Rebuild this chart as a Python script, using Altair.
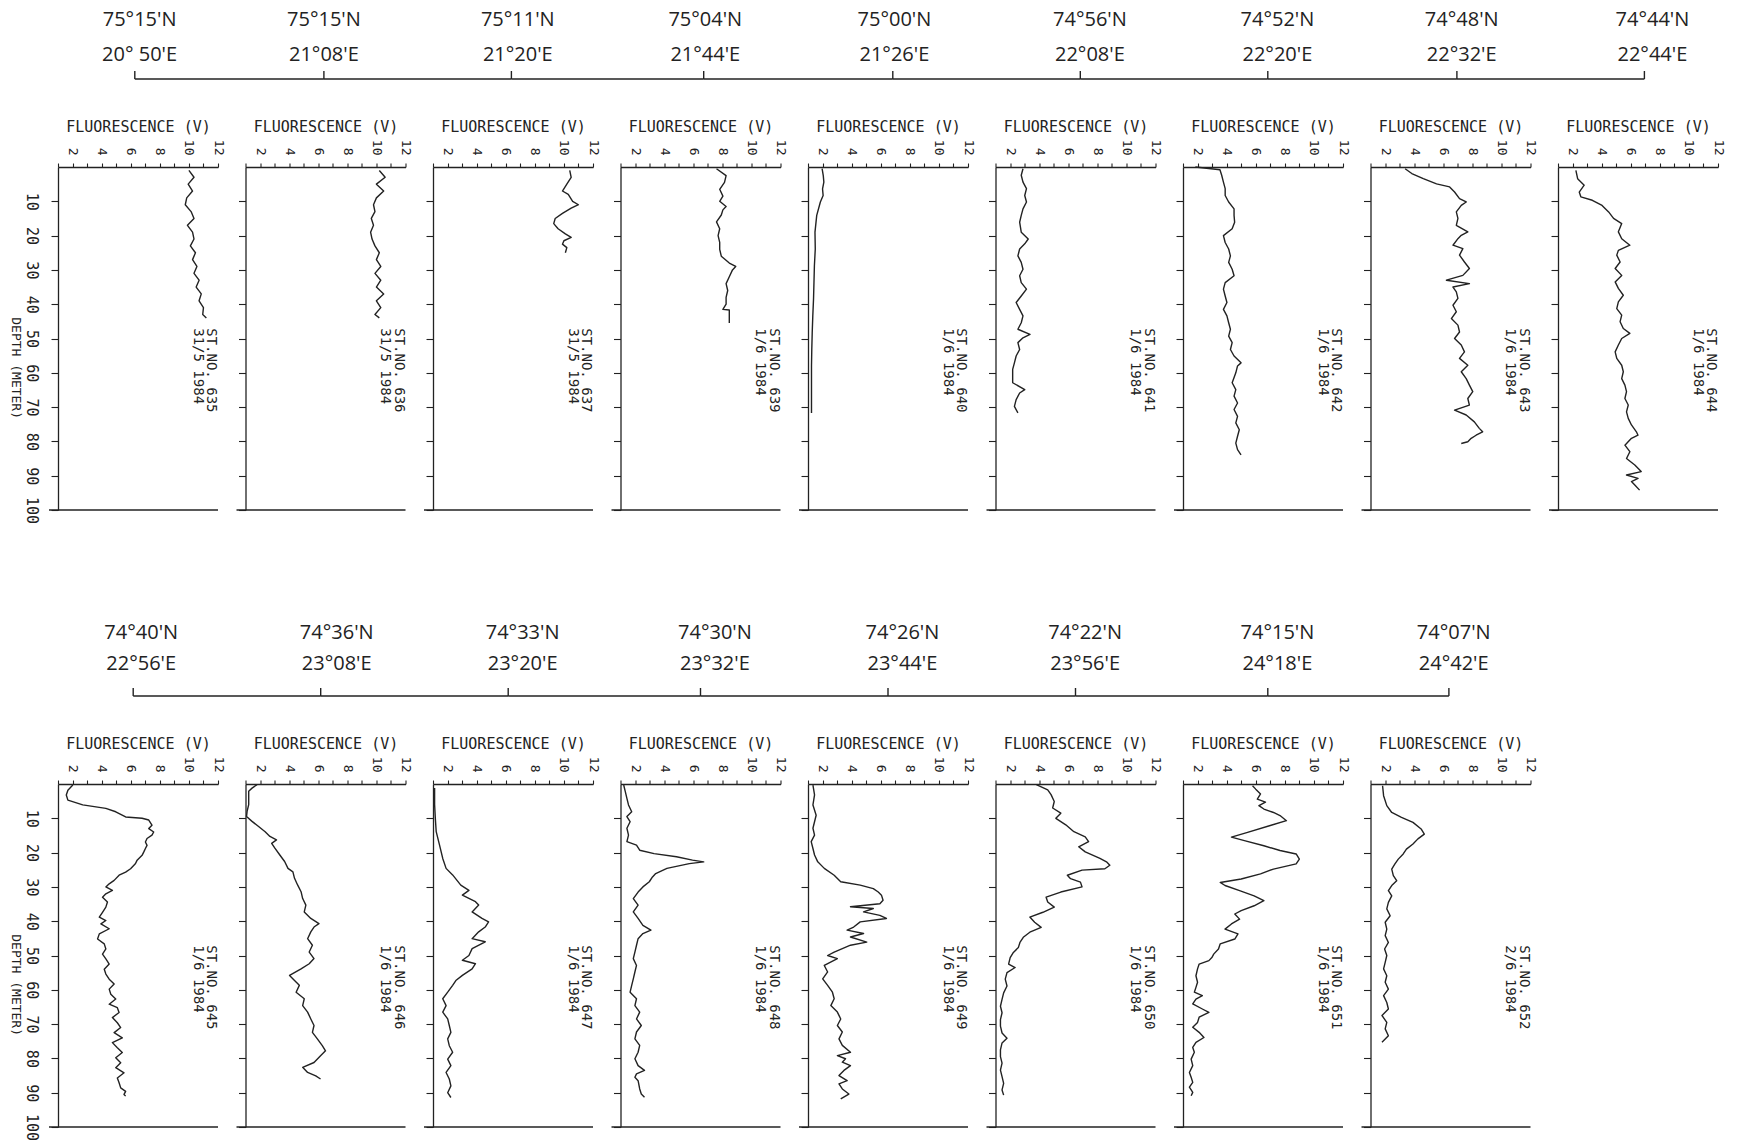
import altair as alt
import pandas as pd

# ------------------------------------------------------------------
# Station metadata
# ------------------------------------------------------------------
top_stations = ["635", "636", "637", "639", "640", "641", "642", "643", "644"]
top_dates = ["31/5 1984", "31/5 1984", "31/5 1984", "1/6 1984", "1/6 1984",
             "1/6 1984", "1/6 1984", "1/6 1984", "1/6 1984"]
top_lat = ["75°15'N", "75°15'N", "75°11'N", "75°04'N", "75°00'N",
           "74°56'N", "74°52'N", "74°48'N", "74°44'N"]
top_lon = ["20° 50'E", "21°08'E", "21°20'E", "21°44'E", "21°26'E",
           "22°08'E", "22°20'E", "22°32'E", "22°44'E"]
# tick / label position along the transect, as fraction of a panel width
top_tick = [0.48, 0.49, 0.49, 0.52, 0.53, 0.53, 0.53, 0.54, 0.54]
top_label = [0.51, 0.49, 0.53, 0.53, 0.54, 0.59, 0.59, 0.57, 0.59]

bot_stations = ["645", "646", "647", "648", "649", "650", "651", "652"]
bot_dates = ["1/6 1984", "1/6 1984", "1/6 1984", "1/6 1984", "1/6 1984",
             "1/6 1984", "1/6 1984", "2/6 1984"]
bot_lat = ["74°40'N", "74°36'N", "74°33'N", "74°30'N", "74°26'N",
           "74°22'N", "74°15'N", "74°07'N"]
bot_lon = ["22°56'E", "23°08'E", "23°20'E", "23°32'E", "23°44'E",
           "23°56'E", "24°18'E", "24°42'E"]
bot_tick = [0.47, 0.47, 0.47, 0.50, 0.50, 0.50, 0.53, 0.49]
bot_label = [0.52, 0.57, 0.56, 0.59, 0.59, 0.56, 0.59, 0.52]

# ------------------------------------------------------------------
# Fluorescence profiles (depth in m, fluorescence in V)
# ------------------------------------------------------------------
d635 = [1, 3, 5, 7, 9, 11, 13, 15, 17, 19, 21, 23, 25, 27, 29, 31, 33, 35, 37, 39, 41, 43, 44]
f635 = [10.0, 10.35, 9.95, 10.25, 9.85, 9.75, 10.15, 10.35, 9.9, 10.25, 10.35, 10.1, 10.45,
        10.25, 10.55, 10.35, 10.7, 10.5, 10.85, 10.7, 11.0, 10.95, 11.2]

d636 = [1, 3, 5, 7, 9, 11, 13, 15, 17, 19, 21, 23, 25, 27, 29, 31, 33, 35, 37, 39, 41, 43, 44]
f636 = [10.2, 10.6, 10.0, 10.5, 10.0, 9.8, 9.9, 9.65, 9.8, 9.6, 9.7, 9.9, 10.2, 10.0, 10.3,
        9.9, 10.3, 10.0, 10.5, 10.0, 10.3, 9.9, 10.2]

d637 = [1, 3, 5, 7, 8, 10, 11, 12, 13.5, 15, 16.5, 18, 19.5, 20.5, 21.5, 22.5, 23.5, 25]
f637 = [10.4, 10.5, 10.2, 9.9, 10.3, 10.6, 11.0, 10.5, 9.9, 9.4, 9.3, 9.6, 10.1, 10.5, 10.0,
        9.9, 10.2, 10.1]

d639 = [0.5, 2.5, 4.5, 6.5, 8.5, 10, 11.5, 12.5, 14, 16, 18, 20, 22, 24, 26, 28, 29, 30, 32,
        34, 36, 38, 40, 41.5, 41.7, 45.5]
f639 = [7.6, 8.26, 8.15, 7.82, 8.04, 7.82, 8.26, 8.04, 7.93, 7.6, 7.82, 7.71, 7.82, 7.82, 7.93,
        8.48, 8.92, 8.7, 8.48, 8.26, 8.37, 8.26, 8.26, 8.04, 8.48, 8.48]

d640 = [0.5, 2.5, 4.4, 6.4, 8.3, 10.2, 14.1, 19, 23.9, 28.8, 33.7, 38.5, 43.4, 48.3, 53.2, 58,
        62.9, 67.8, 71.7]
f640 = [1.97, 2.05, 2.09, 2.0, 2.04, 1.85, 1.6, 1.48, 1.5, 1.44, 1.41, 1.38, 1.33, 1.29, 1.26,
        1.24, 1.24, 1.24, 1.24]

d641 = [0.5, 2.4, 4.4, 6.3, 8.3, 10.2, 12.2, 14.1, 16.1, 19, 21, 22.4, 23.9, 25.9, 27.8, 29.8,
        31.7, 33.7, 35.6, 37.6, 39.5, 41.5, 43.4, 45.4, 47.3, 48.8, 49.8, 51.2, 53.2, 55.1, 57.1,
        59, 61, 62.9, 64.9, 65.9, 67.8, 69.8, 71.7]
f641 = [2.89, 2.77, 2.89, 3.13, 3.01, 3.13, 2.89, 2.77, 2.66, 2.77, 3.25, 3.01, 2.66, 2.54, 2.77,
        2.89, 2.66, 2.77, 3.13, 2.77, 2.42, 2.66, 2.89, 2.77, 2.54, 3.37, 2.89, 2.54, 2.66, 2.42,
        2.3, 2.18, 2.18, 2.18, 3.01, 2.66, 2.42, 2.3, 2.54]

d642 = [0, 0.8, 2.4, 4.4, 6.3, 8.3, 10.2, 12.2, 14.1, 16.1, 18, 20, 22, 23.9, 25.9, 27.8, 29.8,
        31.7, 33.7, 35.6, 37.6, 39.5, 41.5, 43.4, 45.4, 47.3, 49.3, 51.2, 53.2, 55.1, 57.1, 58,
        60, 62.9, 64.9, 66.8, 68.8, 70.7, 72.7, 74.6, 76.6, 78.5, 80.5, 82.4, 83.9]
f642 = [1.85, 3.54, 3.66, 3.78, 3.9, 3.9, 4.14, 4.51, 4.51, 4.55, 4.38, 3.78, 3.9, 4.14, 4.26,
        4.14, 4.38, 4.51, 3.9, 3.78, 3.9, 4.02, 3.78, 4.02, 4.14, 4.26, 4.14, 4.38, 4.26, 4.51,
        4.99, 4.75, 4.63, 4.38, 4.63, 4.51, 4.75, 4.51, 4.75, 4.63, 4.87, 4.75, 4.63, 4.75, 4.99]

d643 = [0.5, 1.9, 3.4, 4.9, 5.8, 7.3, 9.2, 10.2, 11.2, 13.1, 15, 17, 18.9, 19.9, 20.9, 22.8,
        23.8, 25.7, 27.7, 29.6, 31.6, 33, 34, 35, 36.4, 38.3, 40.3, 42.2, 44.2, 46.1, 48.1, 50,
        51.9, 53.9, 55.8, 57.8, 59.7, 61.7, 63.6, 65.5, 67.5, 69.4, 70.9, 72.3, 74.3, 76.2,
        77.2, 78.2, 79.1, 80.1, 80.6]
f643 = [3.38, 3.84, 4.63, 5.54, 6.44, 6.78, 7.12, 7.58, 7.24, 6.9, 7.01, 6.9, 7.69, 7.24, 7.01,
        6.67, 7.35, 7.12, 7.46, 7.8, 7.35, 6.22, 7.8, 6.67, 6.9, 7.01, 6.67, 6.9, 6.56, 7.01,
        7.12, 6.78, 7.24, 7.46, 7.12, 7.69, 7.24, 7.58, 7.8, 8.03, 7.69, 7.8, 6.78, 7.58, 8.14,
        8.48, 8.71, 8.26, 7.92, 7.69, 7.24]

d644 = [1, 3.4, 5.3, 7.3, 8.7, 9.7, 11.2, 13.1, 15, 16.5, 18.9, 20.9, 22.8, 24.3, 25.7, 27.7,
        29.6, 31.6, 33.5, 35.4, 37.4, 39.3, 41.3, 43.2, 45.1, 47.1, 48.5, 50, 51.9, 53.9, 55.8,
        57.8, 59.7, 61.7, 63.6, 65.5, 67.5, 69.4, 71.4, 73.3, 75.2, 77.2, 78.2, 79.1, 81.1, 83,
        85, 86.9, 88.8, 89.8, 90.8, 91.7, 92.7, 94.2]
f644 = [2.23, 2.35, 2.8, 2.46, 2.57, 3.36, 4.03, 4.48, 4.82, 5.38, 5.15, 5.38, 5.94, 5.15, 5.04,
        5.27, 4.93, 5.38, 4.93, 5.15, 5.49, 5.15, 5.04, 5.38, 5.27, 5.49, 5.94, 5.38, 5.15, 4.93,
        5.04, 5.38, 5.49, 5.38, 5.6, 5.71, 5.6, 5.83, 5.71, 5.83, 6.05, 6.39, 6.5, 6.05, 5.6,
        5.94, 5.71, 6.28, 6.72, 5.71, 6.5, 6.05, 6.28, 6.61]

d645 = [0.3, 1.8, 3.2, 4.7, 6.1, 7.1, 8.1, 9.6, 10.0, 10.5, 12.0, 13.0, 14.0, 14.9, 15.9, 16.9,
        17.9, 18.8, 19.8, 20.8, 22.2, 23.2, 24.7, 25.7, 26.6, 28.1, 29.1, 30.0, 31.0, 32.0, 33.0,
        34.4, 35.9, 37.4, 38.8, 39.8, 40.8, 42.2, 43.7, 45.2, 46.6, 48.1, 49.6, 51.0, 52.5, 54.0,
        55.4, 56.9, 58.3, 59.8, 61.3, 62.7, 64.2, 65.2, 66.6, 68.1, 69.6, 71.0, 72.5, 74.0, 75.4,
        76.9, 78.3, 79.8, 81.3, 82.7, 84.2, 85.7, 87.1, 88.6, 89.6, 90.5, 91.0]
f645 = [2.02, 1.68, 1.57, 1.68, 2.7, 4.29, 4.97, 5.65, 6.78, 7.24, 7.46, 7.24, 7.58, 7.46, 7.12,
        7.01, 7.12, 7.01, 6.9, 6.78, 6.44, 6.33, 5.99, 5.65, 5.2, 4.86, 4.52, 4.29, 4.74, 4.29,
        4.06, 4.4, 4.29, 4.06, 3.84, 4.29, 3.95, 4.52, 3.84, 3.72, 4.18, 4.29, 4.06, 4.29, 4.52,
        4.18, 4.29, 4.52, 4.86, 4.52, 4.63, 4.97, 4.52, 5.08, 5.2, 4.74, 5.08, 5.31, 4.86, 5.42,
        4.74, 5.08, 5.42, 4.97, 5.31, 4.97, 5.54, 5.08, 5.2, 5.31, 5.65, 5.54, 5.65]

d646 = [0.2, 1.2, 2.1, 4.1, 6.0, 8.0, 9.5, 10.9, 12.4, 13.9, 15.3, 16.3, 17.3, 18.7, 20.7, 22.6,
        24.6, 25.6, 27.5, 29.5, 31.4, 33.4, 35.3, 37.3, 39.2, 40.7, 41.7, 43.1, 45.1, 47.0, 49.0,
        50.9, 52.4, 53.9, 55.8, 57.3, 58.7, 60.7, 62.6, 64.6, 66.5, 68.5, 70.4, 72.4, 74.3, 76.3,
        77.8, 79.2, 81.2, 82.6, 84.1, 85.1, 86.0]
f646 = [1.79, 1.45, 1.22, 1.22, 1.22, 1.11, 1.07, 1.45, 1.9, 2.35, 2.68, 3.13, 2.8, 3.02, 3.36,
        3.69, 3.92, 4.26, 4.37, 4.59, 4.82, 4.93, 5.15, 5.04, 5.49, 6.05, 5.71, 5.49, 5.27, 5.6,
        5.38, 5.71, 5.38, 4.82, 4.03, 4.37, 4.7, 4.48, 5.04, 4.93, 5.27, 5.49, 5.71, 5.6, 5.94,
        6.28, 6.5, 6.16, 5.71, 4.93, 5.27, 5.83, 6.16]

d647 = [1.2, 6.0, 10.0, 13.9, 17.8, 21.7, 24.6, 26.5, 29.5, 31.0, 32.4, 34.3, 35.3, 37.3, 39.2,
        40.2, 41.7, 43.1, 45.1, 46.0, 48.0, 50.0, 51.4, 52.4, 53.9, 55.8, 57.3, 58.7, 60.7, 62.6,
        64.6, 66.5, 68.5, 70.4, 72.4, 74.3, 76.3, 78.2, 80.2, 82.1, 84.1, 86.0, 88.0, 90.0, 91.4]
f647 = [1.11, 1.11, 1.16, 1.22, 1.45, 1.67, 1.9, 2.35, 2.91, 3.47, 3.02, 3.92, 4.14, 3.69, 4.37,
        4.82, 4.59, 4.14, 3.69, 4.59, 3.69, 3.47, 3.02, 3.92, 3.69, 3.02, 2.57, 2.35, 2.01, 1.67,
        1.9, 1.67, 2.01, 2.12, 2.23, 2.01, 2.12, 2.35, 2.01, 2.23, 1.9, 2.12, 2.23, 2.01, 2.23]

d648 = [0.3, 2.2, 4.2, 6.1, 8.1, 9.5, 11.0, 12.9, 14.9, 16.8, 17.8, 19.3, 20.3, 21.2, 22.2, 22.7,
        23.2, 24.6, 26.1, 27.1, 28.5, 30.0, 31.5, 33.4, 35.3, 37.3, 39.2, 41.2, 42.6, 43.6, 45.1,
        47.0, 49.0, 50.9, 52.9, 54.8, 56.8, 58.7, 60.7, 62.6, 64.6, 66.5, 68.5, 70.4, 72.3, 74.3,
        76.2, 78.2, 80.1, 82.1, 83.5, 84.5, 85.5, 86.5, 88.9, 90.4, 91.3]
f648 = [1.22, 1.33, 1.44, 1.55, 1.77, 1.44, 1.66, 1.44, 1.55, 1.44, 2.1, 2.32, 3.31, 4.85, 5.95,
        6.72, 5.73, 4.19, 3.42, 3.2, 2.98, 2.54, 2.21, 1.88, 2.21, 1.88, 2.21, 2.54, 3.09, 2.54,
        2.21, 2.1, 1.99, 1.88, 2.1, 1.99, 1.88, 1.77, 1.66, 2.1, 1.99, 2.32, 2.1, 2.43, 2.1,
        1.99, 2.32, 2.21, 1.99, 2.21, 2.65, 2.1, 1.99, 2.21, 2.32, 2.43, 2.65]

d649 = [0.3, 3.2, 6.1, 9.1, 11.0, 12.9, 14.9, 16.8, 18.8, 20.7, 22.7, 24.6, 26.6, 28.5, 29.5,
        30.5, 31.5, 32.4, 33.9, 34.9, 35.8, 36.3, 37.3, 38.3, 39.2, 40.2, 41.7, 42.6, 43.6, 44.6,
        46.1, 47.0, 49.0, 50.0, 50.9, 52.9, 54.8, 56.8, 58.7, 60.7, 62.6, 64.6, 66.5, 68.5, 70.4,
        72.3, 74.3, 76.2, 78.2, 79.2, 80.1, 81.1, 82.1, 83.5, 85.0, 86.5, 87.4, 88.9, 90.4, 91.8]
f649 = [1.34, 1.45, 1.34, 1.56, 1.45, 1.34, 1.45, 1.22, 1.34, 1.45, 1.67, 2.12, 2.8, 3.25, 4.59,
        5.49, 5.83, 6.05, 6.16, 5.94, 3.92, 5.49, 4.82, 5.94, 6.39, 4.59, 4.14, 3.69, 4.82, 3.92,
        5.04, 3.92, 2.8, 2.35, 3.02, 2.12, 2.35, 2.01, 2.35, 2.68, 2.8, 2.57, 3.02, 3.25, 3.02,
        3.36, 3.13, 3.36, 3.92, 3.02, 3.58, 3.36, 3.92, 3.47, 3.13, 3.69, 3.13, 3.36, 3.81, 3.25]

d650 = [0.2, 1.7, 3.1, 5.1, 7.0, 8.5, 10.0, 11.9, 13.9, 15.4, 16.8, 18.3, 19.8, 21.7, 22.7, 23.7,
        24.7, 25.1, 26.6, 27.6, 28.6, 30.0, 31.5, 33.0, 34.4, 35.9, 37.4, 38.8, 40.3, 41.8, 43.2,
        44.7, 46.2, 47.7, 49.1, 50.6, 52.5, 53.5, 55.0, 56.9, 58.9, 60.9, 62.8, 64.8, 66.7, 68.7,
        70.6, 72.6, 74.1, 75.5, 77.5, 79.5, 81.4, 83.4, 85.3, 87.3, 89.2, 90.7]
f650 = [3.81, 4.59, 4.82, 5.04, 4.93, 5.49, 5.15, 5.83, 6.39, 7.17, 7.4, 6.72, 7.17, 8.18, 8.63,
        8.86, 8.52, 6.95, 5.94, 6.16, 6.84, 6.95, 5.49, 4.48, 4.59, 5.04, 4.26, 3.36, 3.69, 4.14,
        3.36, 2.91, 2.68, 2.57, 2.23, 2.01, 1.9, 2.35, 1.79, 1.67, 1.79, 1.56, 1.45, 1.34, 1.45,
        1.34, 1.34, 1.45, 1.79, 1.45, 1.34, 1.34, 1.45, 1.34, 1.45, 1.56, 1.45, 1.56]

d651 = [0.5, 1.5, 2.9, 4.4, 5.3, 6.3, 7.3, 8.3, 9.2, 10.7, 12.1, 14.1, 15.5, 16.5, 18.0, 19.4,
        20.4, 21.9, 23.3, 24.8, 26.2, 27.7, 28.7, 29.6, 31.1, 32.6, 34.0, 35.5, 36.9, 37.9, 39.4,
        40.8, 42.3, 43.7, 45.2, 46.6, 48.1, 49.6, 50.5, 51.5, 52.5, 53.9, 55.9, 57.8, 59.3, 60.7,
        61.7, 62.7, 64.1, 65.6, 66.6, 68.0, 69.5, 70.9, 72.4, 73.9, 75.3, 76.8, 78.2, 80.2, 82.1,
        84.1, 85.5, 87.0, 88.4, 89.9, 90.9]
f651 = [5.78, 6.0, 6.33, 6.11, 6.67, 6.22, 6.56, 7.22, 7.67, 8.11, 7.0, 5.44, 4.33, 5.22, 6.56,
        7.67, 8.78, 9.0, 8.78, 7.22, 6.33, 5.0, 3.56, 3.89, 4.89, 5.89, 6.56, 5.89, 5.0, 4.56,
        4.89, 4.33, 3.89, 4.78, 4.56, 3.56, 3.44, 3.11, 3.0, 2.78, 2.11, 2.0, 1.89, 2.0, 1.89,
        1.78, 2.33, 1.89, 1.67, 2.33, 2.78, 2.11, 2.0, 1.67, 2.11, 2.44, 1.89, 1.67, 1.78, 1.56,
        1.67, 1.44, 1.56, 1.67, 1.44, 1.67, 1.56]

d652 = [0.5, 3.4, 6.3, 8.3, 9.7, 11.2, 13.1, 14.6, 16.0, 17.5, 19.0, 20.4, 21.9, 23.3, 24.8,
        26.7, 28.2, 29.6, 31.1, 32.6, 34.5, 36.4, 38.4, 40.3, 42.3, 44.2, 46.2, 48.1, 50.0, 52.0,
        53.9, 55.9, 57.8, 59.8, 61.7, 63.7, 65.6, 67.5, 69.5, 71.4, 73.4, 75.3]
f652 = [1.83, 1.9, 2.12, 2.46, 3.13, 3.92, 4.48, 4.7, 4.26, 3.92, 3.47, 3.25, 2.91, 2.68, 2.46,
        2.57, 2.8, 2.46, 2.23, 2.46, 2.23, 2.12, 2.35, 2.01, 2.12, 2.01, 2.23, 1.97, 2.12, 2.01,
        1.9, 2.12, 2.01, 2.23, 1.9, 2.12, 2.23, 1.79, 2.12, 2.01, 2.23, 1.79]

top_profiles = [(d635, f635), (d636, f636), (d637, f637), (d639, f639), (d640, f640),
                (d641, f641), (d642, f642), (d643, f643), (d644, f644)]
bot_profiles = [(d645, f645), (d646, f646), (d647, f647), (d648, f648), (d649, f649),
                (d650, f650), (d651, f651), (d652, f652)]

LABEL_DEPTH = 47  # depth where the station text starts

# ------------------------------------------------------------------
# Layout / style
# ------------------------------------------------------------------
W, H = 160, 343
COL_GAP, ROW_GAP = 27.5, 88
T_TOP, T_BOT = 71, 98
INK = "#222222"
MONO = "DejaVu Sans Mono"
SANS = "Open Sans"

X_SCALE = alt.Scale(domain=[1, 12], nice=False, zero=False)
Y_SCALE = alt.Scale(domain=[0, 100], reverse=True, nice=False, zero=False)


def x_channel():
    return alt.X(
        "fl:Q", scale=X_SCALE,
        axis=alt.Axis(
            orient="top", values=list(range(1, 13)),
            labelExpr="datum.value % 2 == 0 ? datum.label : ''",
            labelAngle=90, labelAlign="right", labelBaseline="middle",
            labelPadding=8, labelFlush=False, labelOverlap=False,
            labelFontSize=13, tickSize=4,
            title="FLUORESCENCE (V)", titlePadding=5, titleFontSize=15,
        ),
    )


def y_channel(first):
    if first:
        ax = alt.Axis(
            values=list(range(10, 101, 10)), tickSize=7, labelOverlap=False,
            labelAngle=90, labelAlign="center", labelBaseline="top",
            labelPadding=13, labelFontSize=15,
            title="DEPTH (METER)", titleAngle=90, titleBaseline="top",
            titleAlign="center", titleY=0.585 * H, titlePadding=2, titleFontSize=13,
        )
    else:
        ax = alt.Axis(values=list(range(10, 101, 10)), tickSize=7, labels=False, title=None)
    return alt.Y("depth:Q", scale=Y_SCALE, axis=ax)


def panel(depths, values, station, date, first):
    line_df = pd.DataFrame({"depth": depths, "fl": values})
    line = alt.Chart(line_df).mark_line(color=INK, strokeWidth=1.4, strokeJoin="round").encode(
        x=x_channel(), y=y_channel(first), order="depth:Q")
    bottom = alt.Chart(pd.DataFrame({"depth": [100]})).mark_rule(color=INK, strokeWidth=1.4).encode(
        y=y_channel(first), x=alt.value(-9), x2=alt.value(W))
    lab_df = pd.DataFrame({"depth": [LABEL_DEPTH], "txt": [f"ST.NO. {station}\n{date}"]})
    label = alt.Chart(lab_df).mark_text(
        angle=90, align="left", baseline="top", lineBreak="\n", font=MONO,
        fontSize=14, lineHeight=13.5, color=INK).encode(
        y=y_channel(first), x=alt.value(W), text="txt:N")
    return alt.layer(line, bottom, label).properties(width=W, height=H)


def transect_cell(c, ticks, labels, lat, lon, T, lat_off, lon_off):
    x0 = ticks[c]
    x1 = (1 + COL_GAP / W + ticks[c + 1]) if c + 1 < len(ticks) else ticks[c]
    df = pd.DataFrame({"x0": [x0], "x1": [x1], "lx": [labels[c]],
                       "lat": [lat[c]], "lon": [lon[c]]})
    xs = alt.Scale(domain=[0, 1], nice=False, zero=False)
    base = alt.Chart(df)
    seg = base.mark_rule(color=INK, strokeWidth=1.4).encode(
        x=alt.X("x0:Q", scale=xs, axis=None), x2="x1:Q", y=alt.value(T))
    tick = base.mark_rule(color=INK, strokeWidth=1.4).encode(
        x=alt.X("x0:Q", scale=xs, axis=None), y=alt.value(T - 8), y2=alt.value(T))
    lat_t = base.mark_text(font=SANS, fontSize=20, color=INK, align="center",
                           baseline="middle").encode(
        x=alt.X("lx:Q", scale=xs, axis=None), y=alt.value(T - lat_off), text="lat:N")
    lon_t = base.mark_text(font=SANS, fontSize=20, color=INK, align="center",
                           baseline="middle").encode(
        x=alt.X("lx:Q", scale=xs, axis=None), y=alt.value(T - lon_off), text="lon:N")
    return alt.layer(seg, tick, lat_t, lon_t).properties(width=W, height=T)


cells = []
for c in range(len(top_stations)):
    cells.append(transect_cell(c, top_tick, top_label, top_lat, top_lon, T_TOP, 59, 24))
for c, (d, f) in enumerate(top_profiles):
    cells.append(panel(d, f, top_stations[c], top_dates[c], c == 0))
for c in range(len(bot_stations)):
    cells.append(transect_cell(c, bot_tick, bot_label, bot_lat, bot_lon, T_BOT, 63, 32))
cells.append(
    alt.Chart(pd.DataFrame({"v": [0]})).mark_point(opacity=0).encode(
        x=alt.value(0), y=alt.value(0)).properties(width=W, height=T_BOT))
for c, (d, f) in enumerate(bot_profiles):
    cells.append(panel(d, f, bot_stations[c], bot_dates[c], c == 0))

chart = alt.concat(
    *cells, columns=9, spacing={"row": ROW_GAP, "column": COL_GAP},
    bounds="flush", align="each",
).properties(
    padding={"left": 8, "top": 8, "right": 4, "bottom": 2}, background="white",
).configure_view(strokeWidth=0).configure_axis(
    grid=False, domainColor=INK, tickColor=INK, labelColor=INK, titleColor=INK,
    labelFont=MONO, titleFont=MONO, titleFontWeight="normal",
    domainWidth=1.3, tickWidth=1.1,
)

chart.save("out.html", embed_options={"renderer": "svg", "actions": False})
